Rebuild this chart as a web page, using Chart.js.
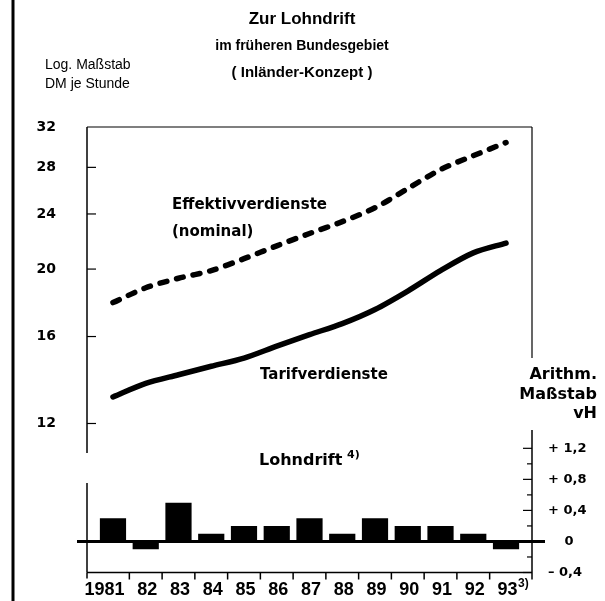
<!DOCTYPE html>
<html>
<head>
<meta charset="utf-8">
<script src="https://cdn.jsdelivr.net/npm/chart.js@4.4.1/dist/chart.umd.min.js"></script>
<style>
  html, body { margin: 0; padding: 0; background: #fff; }
  canvas { display: block; }
</style>
</head>
<body>
<canvas id="chart" width="605" height="601"></canvas>
<script>
// values
const years = ['1981', '82', '83', '84', '85', '86', '87', '88', '89', '90', '91', '92', '93'];
const effektiv = [17.9, 18.8, 19.4, 19.9, 20.7, 21.6, 22.5, 23.4, 24.5, 26.1, 27.8, 29.1, 30.4];
const tarif = [13.1, 13.7, 14.1, 14.5, 14.9, 15.5, 16.1, 16.7, 17.5, 18.6, 19.9, 21.1, 21.8];
const lohndrift = [0.3, -0.1, 0.5, 0.1, 0.2, 0.2, 0.3, 0.1, 0.3, 0.2, 0.2, 0.1, -0.1];

const logTicks = [12, 16, 20, 24, 28, 32];
const driftTicks = [-0.4, 0, 0.4, 0.8, 1.2];
const driftLabels = ['\u2013 0,4', '0', '+ 0,4', '+ 0,8', '+ 1,2'];
const driftMinor = [-0.2, 0.2, 0.6, 1.0];

const BOLD = 'bold 14px "DejaVu Sans"';
const LABEL = 'bold 15px "DejaVu Sans"';

function line(ctx, x1, y1, x2, y2, w) {
  ctx.lineWidth = w;
  ctx.beginPath();
  ctx.moveTo(x1, y1);
  ctx.lineTo(x2, y2);
  ctx.stroke();
}

function text(ctx, s, x, y, font, align) {
  ctx.font = font;
  ctx.textAlign = align || 'left';
  ctx.textBaseline = 'middle';
  ctx.fillText(s, x, y);
}

const decor = {
  id: 'decor',
  afterDatasetsDraw(chart) {
    const ctx = chart.ctx;
    const xs = chart.scales.x;
    const yl = chart.scales.y;
    const yr = chart.scales.y2;
    const left = 87, right = 532, top = yl.getPixelForValue(32), bottom = 572.5;
    ctx.save();
    ctx.strokeStyle = '#000';
    ctx.fillStyle = '#000';
    ctx.lineCap = 'butt';

    // page border at the left
    line(ctx, 13, 0, 13, 601, 3);

    // titles
    text(ctx, 'Zur Lohndrift', 302, 19, 'bold 17px "Liberation Sans"', 'center');
    text(ctx, 'im früheren Bundesgebiet', 302, 46, 'bold 14px "Liberation Sans"', 'center');
    text(ctx, '( Inländer-Konzept )', 302, 73, 'bold 15px "Liberation Sans"', 'center');
    text(ctx, 'Log. Maßstab', 45, 65, '14px "Liberation Sans"');
    text(ctx, 'DM je Stunde', 45, 84, '14px "Liberation Sans"');

    // frame of the upper panel
    line(ctx, left, top, right, top, 1.2);
    line(ctx, left, top, left, 453, 1.5);
    line(ctx, left, 483, left, bottom, 1.5);
    line(ctx, right, top, right, 358, 1.2);
    line(ctx, right, 430, right, bottom + 7, 1.5);

    // log axis ticks and labels
    logTicks.forEach(v => {
      const y = yl.getPixelForValue(v);
      if (v < 32) line(ctx, left, y, left + 9, y, 1.2);
      text(ctx, String(v), 56, y, BOLD, 'right');
    });

    // arithmetic axis ticks and labels
    driftTicks.forEach((v, i) => {
      const y = yr.getPixelForValue(v);
      line(ctx, right - 9, y, right, y, 1.2);
      if (v === 0) text(ctx, driftLabels[i], 569, y, 'bold 13px "DejaVu Sans"', 'center');
      else text(ctx, driftLabels[i], 548, y, 'bold 13px "DejaVu Sans"', 'left');
    });
    driftMinor.forEach(v => {
      const y = yr.getPixelForValue(v);
      line(ctx, right - 5, y, right, y, 1.2);
    });
    text(ctx, 'Arithm.', 597, 375, 'bold 16px "DejaVu Sans"', 'right');
    text(ctx, 'Maßstab', 597, 395, 'bold 16px "DejaVu Sans"', 'right');
    text(ctx, 'vH', 597, 414, 'bold 16px "DejaVu Sans"', 'right');

    // zero line
    const y0 = yr.getPixelForValue(0);
    line(ctx, 77, y0, 545, y0, 3);

    // category axis
    line(ctx, left, bottom, right, bottom, 1.5);
    const w = xs.getPixelForValue(1) - xs.getPixelForValue(0);
    line(ctx, left, bottom, left, bottom + 6, 1.5);
    for (let i = 1; i < years.length; i++) {
      const x = xs.getPixelForValue(i) - w / 2;
      line(ctx, x, bottom, x, bottom + 7, 1.5);
    }
    years.forEach((s, i) => {
      const x = xs.getPixelForValue(i);
      text(ctx, s, x + 11.5, 590, 'bold 18px "Liberation Sans"', 'right');
    });
    const x93 = xs.getPixelForValue(years.length - 1);
    text(ctx, '3)', x93 + 12, 584, 'bold 12px "Liberation Sans"');

    // series labels
    text(ctx, 'Effektivverdienste', 172, 205, LABEL);
    text(ctx, '(nominal)', 172, 232, LABEL);
    text(ctx, 'Tarifverdienste', 260, 375, LABEL);
    text(ctx, 'Lohndrift', 259, 461, 'bold 16px "DejaVu Sans"');
    text(ctx, '4)', 347, 455, 'bold 11px "DejaVu Sans"');

    ctx.restore();
  }
};

new Chart(document.getElementById('chart').getContext('2d'), {
  data: {
    labels: years,
    datasets: [
      {
        type: 'line',
        label: 'Effektivverdienste (nominal)',
        data: effektiv,
        yAxisID: 'y',
        borderColor: '#000',
        borderWidth: 5.5,
        borderDash: [7, 10],
        borderCapStyle: 'round',
        pointRadius: 0,
        tension: 0.3,
        fill: false
      },
      {
        type: 'line',
        label: 'Tarifverdienste',
        data: tarif,
        yAxisID: 'y',
        borderColor: '#000',
        borderWidth: 5.5,
        borderCapStyle: 'round',
        pointRadius: 0,
        tension: 0.3,
        fill: false
      },
      {
        type: 'bar',
        label: 'Lohndrift',
        data: lohndrift,
        yAxisID: 'y2',
        backgroundColor: '#000',
        borderWidth: 0,
        barPercentage: 0.8,
        categoryPercentage: 1
      }
    ]
  },
  options: {
    responsive: false,
    devicePixelRatio: 1,
    animation: false,
    layout: { padding: { left: 96.6, right: 82.6, top: 127, bottom: 28.5 } },
    plugins: { legend: { display: false }, tooltip: { enabled: false } },
    scales: {
      x: { type: 'category', offset: true, display: false },
      y: { type: 'logarithmic', min: 7.33, max: 32, bounds: 'data', display: false },
      y2: { type: 'linear', min: -0.4, max: 5.34, bounds: 'data', display: false }
    }
  },
  plugins: [decor]
});
</script>
</body>
</html>
